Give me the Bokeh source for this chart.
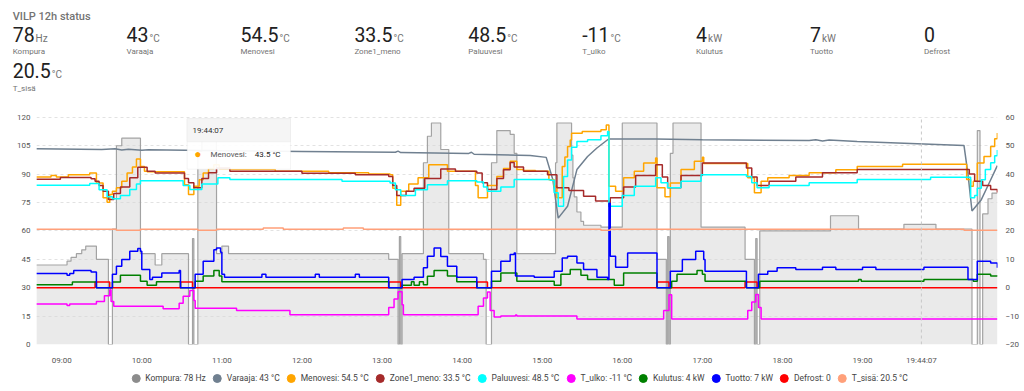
import pandas as pd
from bokeh.plotting import figure
from bokeh.models import (Range1d, LinearAxis, FixedTicker, DatetimeTickFormatter, Legend,
                          LegendItem, BoxAnnotation, Label, Div)
from bokeh.layouts import column
from bokeh.embed import file_html
from bokeh.resources import INLINE

DAY = "2024-01-20 "

# ---------------- data (time, value) ----------------
names = ["Kompura", "Varaaja", "Menovesi", "Zone1_meno", "Paluuvesi", "T_ulko",
         "Kulutus", "Tuotto", "Defrost", "T_sisä"]
current = ["78", "43", "54.5", "33.5", "48.5", "-11", "4", "7", "0", "20.5"]
units = ["Hz", "°C", "°C", "°C", "°C", "°C", "kW", "kW", "", "°C"]
colors = ["#8c8c8c", "#708090", "#FFA500", "#A52A2A", "#00FFFF", "#FF00FF",
          "#008000", "#0000FF", "#FF0000", "#FFA07A"]

kompura = [("08:41", 42), ("09:04", 44), ("09:07", 46), ("09:11", 48), ("09:15", 50), ("09:18", 52),
           ("09:26", 45), ("09:35", 0), ("09:38", 61), ("09:41", 105), ("09:45", 109), ("09:59", 48),
           ("10:10", 42), ("10:15", 48), ("10:35", 0), ("10:38", 56), ("10:39", 0), ("10:42", 102),
           ("10:45", 108), ("10:56", 48), ("11:00", 52), ("11:05", 48), ("13:05", 45), ("13:12", 0),
           ("13:13", 57), ("13:14", 0), ("13:15", 48), ("13:31", 96), ("13:34", 110), ("13:37", 117),
           ("13:44", 103), ("13:50", 48), ("14:16", 45), ("14:18", 0), ("14:22", 96), ("14:26", 113),
           ("14:36", 111), ("14:39", 101), ("14:41", 48), ("15:10", 96), ("15:11", 117), ("15:22", 100),
           ("15:23", 88), ("15:24", 78), ("15:26", 70), ("15:29", 65), ("15:31", 63), ("15:44", 62),
           ("16:00", 117), ("16:26", 45), ("16:33", 0), ("16:34", 57), ("16:35", 0), ("16:36", 101),
           ("16:38", 117), ("16:59", 62), ("17:32", 45), ("17:39", 0), ("17:40", 56), ("17:41", 0),
           ("17:43", 60), ("18:36", 68), ("18:57", 61), ("19:31", 63.5), ("19:55", 61), ("20:22", 0),
           ("20:26", 113), ("20:28", 0), ("20:30", 69), ("20:34", 77), ("20:37", 80), ("20:41", 80)]

varaaja = [("08:41", 48.9), ("09:30", 48.7), ("09:40", 48.9), ("09:45", 48.5), ("09:50", 48.8),
           ("10:00", 48.4), ("10:05", 48.6), ("11:00", 48.2), ("12:00", 48.0), ("13:10", 47.7),
           ("13:12", 48.1), ("13:14", 47.6), ("14:05", 47.3), ("14:07", 47.7), ("14:09", 47.0),
           ("14:51", 46.6), ("15:03", 45.9), ("15:08", 38.0), ("15:12", 24.5), ("15:19", 28.7),
           ("15:26", 41.6), ("15:34", 46.2), ("15:41", 49.2), ("15:49", 52.1), ("15:50", 52.4),
           ("16:25", 52.4), ("17:00", 52.1), ("18:20", 51.8), ("18:25", 52.1), ("18:30", 51.7),
           ("18:35", 52.0), ("18:56", 51.5), ("20:16", 50.1), ("20:19", 40.0), ("20:22", 27.0),
           ("20:29", 31.0), ("20:34", 36.0), ("20:41", 43.0)]

menovesi = [("08:41", 39.0), ("08:52", 39.5), ("08:56", 39.0), ("09:05", 39.8), ("09:21", 40.4),
            ("09:26", 36.9), ("09:31", 31.7), ("09:34", 30.1), ("09:36", 32.8), ("09:38", 34.0),
            ("09:41", 35.2), ("09:45", 37.5), ("09:49", 40.4), ("09:53", 42.5), ("09:56", 45.3),
            ("09:59", 42.7), ("10:02", 41.0), ("10:04", 40.8), ("10:32", 36.3), ("10:35", 32.8),
            ("10:39", 35.7), ("10:43", 38.0), ("10:46", 40.4), ("10:50", 42.0), ("10:54", 43.3),
            ("10:58", 42.0), ("11:06", 41.6), ("11:40", 41.0), ("12:20", 40.5), ("12:50", 40.0),
            ("13:06", 39.8), ("13:08", 35.0), ("13:11", 29.0), ("13:14", 34.0), ("13:20", 36.5),
            ("13:27", 38.7), ("13:35", 43.3), ("13:49", 41.0), ("14:10", 36.0), ("14:12", 31.7),
            ("14:19", 36.0), ("14:26", 39.2), ("14:31", 42.0), ("14:36", 44.5), ("14:41", 41.6),
            ("14:46", 41.3), ("14:55", 41.0), ("15:05", 38.0), ("15:09", 35.7), ("15:11", 31.7),
            ("15:15", 42.7), ("15:17", 46.0), ("15:19", 49.7), ("15:21", 52.0), ("15:22", 54.4),
            ("15:30", 55.0), ("15:44", 55.6), ("15:48", 57.3), ("15:50", 35.7), ("15:55", 34.0),
            ("16:01", 38.7), ("16:09", 41.0), ("16:16", 43.9), ("16:25", 45.7), ("16:26", 35.2),
            ("16:32", 32.0), ("16:36", 36.9), ("16:44", 41.6), ("16:54", 44.5), ("17:00", 45.9),
            ("17:01", 43.7), ("17:34", 38.7), ("17:39", 33.4), ("17:44", 37.5), ("17:49", 38.7),
            ("18:05", 39.5), ("18:20", 40.5), ("18:40", 41.5), ("18:56", 42.7), ("19:30", 43.5),
            ("20:18", 38.1), ("20:21", 35.7), ("20:23", 37.5), ("20:26", 43.9), ("20:31", 46.2),
            ("20:36", 49.7), ("20:39", 52.5), ("20:41", 54.5)]

zone1 = [("08:41", 38.2), ("08:59", 38.8), ("09:22", 38.4), ("09:25", 37.5), ("09:28", 36.0),
         ("09:31", 34.0), ("09:35", 31.1), ("09:39", 33.2), ("09:44", 35.5), ("09:51", 38.7),
         ("09:57", 42.4), ("10:04", 41.0), ("10:10", 40.4), ("10:32", 38.5), ("10:35", 37.0),
         ("10:39", 35.2), ("10:45", 38.5), ("10:50", 40.5), ("10:56", 42.2), ("11:06", 41.0),
         ("12:00", 40.3), ("12:40", 39.8), ("13:05", 39.2), ("13:08", 36.0), ("13:11", 32.5),
         ("13:18", 34.0), ("13:24", 35.0), ("13:32", 38.5), ("13:44", 41.8), ("13:55", 41.0),
         ("14:11", 40.4), ("14:15", 37.0), ("14:19", 34.6), ("14:26", 38.5), ("14:31", 41.5),
         ("14:36", 44.1), ("14:39", 42.5), ("14:46", 41.0), ("15:04", 39.8), ("15:11", 35.2),
         ("15:20", 34.2), ("15:31", 32.2), ("15:40", 30.5), ("15:50", 28.7), ("15:51", 31.7),
         ("16:01", 35.5), ("16:10", 39.5), ("16:25", 43.3), ("16:30", 39.0), ("16:34", 35.2),
         ("16:44", 39.5), ("17:00", 43.9), ("17:33", 42.2), ("17:37", 39.0), ("17:41", 36.0),
         ("17:50", 37.5), ("18:10", 39.0), ("18:30", 40.5), ("18:56", 41.6), ("20:16", 41.6),
         ("20:20", 40.0), ("20:24", 37.5), ("20:30", 36.0), ("20:36", 34.6), ("20:41", 33.5)]

paluuvesi = [("08:41", 36.1), ("09:21", 36.7), ("09:28", 34.5), ("09:34", 32.0), ("09:38", 31.3),
             ("09:44", 32.5), ("09:51", 34.6), ("09:56", 36.5), ("09:59", 37.7), ("10:31", 36.0),
             ("10:36", 34.6), ("10:45", 36.5), ("10:57", 38.7), ("11:06", 38.1), ("12:30", 37.5),
             ("13:06", 36.9), ("13:10", 34.5), ("13:14", 32.5), ("13:25", 34.5), ("13:34", 36.3),
             ("13:49", 37.7), ("14:11", 37.2), ("14:16", 35.5), ("14:19", 34.0), ("14:29", 35.5),
             ("14:39", 38.1), ("15:06", 37.8), ("15:09", 33.4), ("15:12", 28.7), ("15:16", 39.2),
             ("15:19", 45.0), ("15:22", 49.5), ("15:26", 51.5), ("15:34", 52.1), ("15:44", 53.5),
             ("15:49", 55.0), ("15:50", 28.7), ("16:00", 32.5), ("16:09", 35.7), ("16:25", 38.7),
             ("16:29", 37.0), ("16:34", 35.2), ("16:44", 37.5), ("16:59", 39.8), ("17:33", 39.2),
             ("17:37", 37.0), ("17:41", 35.2), ("17:50", 36.0), ("18:20", 37.0), ("18:56", 38.1),
             ("19:51", 38.9), ("20:21", 31.7), ("20:24", 32.5), ("20:26", 35.0), ("20:29", 38.0),
             ("20:32", 41.6), ("20:36", 44.0), ("20:39", 46.5), ("20:41", 48.5)]

t_ulko = [("08:41", -5.7), ("09:04", -6.3), ("09:06", -5.7), ("09:26", -4.9), ("09:32", -2.8),
          ("09:36", -0.7), ("09:37", -4.9), ("09:39", -6.5), ("10:16", -7.4), ("10:28", -5.5),
          ("10:31", -3.0), ("10:36", -1.0), ("10:39", -4.5), ("10:40", -7.2), ("11:11", -8.0),
          ("11:51", -9.5), ("13:05", -7.0), ("13:09", -4.0), ("13:12", -1.4), ("13:15", -6.0),
          ("13:16", -9.5), ("14:12", -6.5), ("14:16", -3.6), ("14:19", -1.5), ("14:21", -8.0),
          ("14:24", -10.3), ("14:29", -10.0), ("14:40", -9.6), ("14:41", -10.0), ("15:26", -11.0),
          ("16:31", -8.0), ("16:35", -2.5), ("16:37", -11.0), ("17:34", -8.0), ("17:37", -5.0),
          ("17:40", -2.4), ("17:42", -7.0), ("17:44", -11.0), ("20:41", -11.0)]

kulutus = [("08:41", 1.0), ("09:08", 2.0), ("09:26", 0), ("09:38", 2.0), ("09:44", 4.4), ("09:59", 2.3),
           ("10:04", 0.9), ("10:11", 2.1), ("10:29", 0), ("10:40", 2.3), ("10:46", 4.1), ("10:54", 6.1),
           ("10:58", 4.1), ("11:00", 2.1), ("13:05", 0), ("13:15", 0.9), ("13:22", 2.1), ("13:24", 0.9),
           ("13:28", 2.1), ("13:31", 1.0), ("13:34", 4.0), ("13:39", 6.1), ("13:49", 4.1), ("13:56", 2.1),
           ("14:11", 0), ("14:22", 2.3), ("14:29", 5.2), ("14:41", 2.3), ("15:09", 0.9), ("15:14", 4.7),
           ("15:21", 6.4), ("15:29", 4.4), ("15:34", 2.9), ("15:54", 0.9), ("16:01", 5.2), ("16:26", 0),
           ("16:37", 2.3), ("16:41", 4.7), ("16:56", 6.1), ("17:00", 4.7), ("17:02", 2.3), ("17:33", 0),
           ("17:43", 2.3), ("18:57", 2.9), ("18:59", 2.3), ("19:46", 2.9), ("20:23", 2.3), ("20:26", 4.7),
           ("20:36", 4.1), ("20:41", 4.0)]

tuotto = [("08:41", 5.0), ("09:04", 4.4), ("09:06", 5.0), ("09:09", 6.1), ("09:22", 5.5), ("09:26", 0),
          ("09:38", 4.7), ("09:41", 7.6), ("09:45", 9.9), ("09:51", 12.8), ("09:57", 13.8), ("09:59", 12.8),
          ("10:00", 6.4), ("10:06", 2.9), ("10:08", 3.7), ("10:15", 5.2), ("10:28", 6.1), ("10:29", 0),
          ("10:40", 4.7), ("10:46", 9.3), ("10:54", 13.4), ("10:56", 14.0), ("10:59", 12.5), ("11:00", 4.7),
          ("11:02", 3.7), ("11:30", 4.7), ("11:33", 3.7), ("12:10", 4.7), ("12:13", 3.7), ("12:40", 4.7),
          ("12:43", 3.7), ("13:05", 0), ("13:15", 2.9), ("13:24", 3.7), ("13:31", 7.0), ("13:34", 11.1),
          ("13:39", 14.0), ("13:44", 11.0), ("13:49", 7.6), ("13:56", 3.7), ("14:11", 0), ("14:22", 5.8),
          ("14:29", 9.3), ("14:36", 11.7), ("14:39", 12.2), ("14:40", 4.1), ("14:54", 3.7), ("15:09", 5.8),
          ("15:15", 10.5), ("15:19", 11.1), ("15:26", 8.7), ("15:31", 6.4), ("15:41", 3.7), ("15:49", 2.9),
          ("15:50", 29.7), ("15:51", 11.1), ("15:55", 7.2), ("16:04", 12.2), ("16:26", 0), ("16:36", 5.8),
          ("16:45", 9.9), ("16:55", 12.8), ("17:01", 9.9), ("17:02", 5.8), ("17:33", 0), ("17:42", 4.7),
          ("17:49", 5.8), ("17:56", 7.0), ("18:10", 6.4), ("18:30", 7.2), ("18:40", 6.4), ("19:00", 7.2),
          ("19:10", 6.4), ("19:46", 7.2), ("20:19", 2.9), ("20:26", 9.3), ("20:36", 8.7), ("20:41", 7.0)]

defrost = [("08:41", 0), ("09:25", 2), ("09:36", 0), ("10:29", 2), ("10:38", 0), ("13:05", 2), ("13:14", 0),
           ("14:11", 2), ("14:19", 0), ("16:26", 2), ("16:35", 0), ("17:32", 2), ("17:41", 0), ("20:41", 0)]

t_sisa = [("08:41", 20.6), ("09:41", 20.2), ("09:59", 20.6), ("10:42", 20.2), ("10:56", 20.6),
          ("11:31", 21.0), ("11:46", 20.6), ("12:31", 21.0), ("12:46", 20.6), ("15:44", 20.2),
          ("15:51", 20.6), ("20:16", 20.2), ("20:41", 20.2)]

hour_ticks = ["%02d:00" % h for h in range(9, 20)]
left_ticks = list(range(0, 121, 15))
right_ticks = list(range(-20, 61, 10))
left_span = (0, 120)
right_span = (-20, 60)
cursor_time = "19:44:07"
window = ("08:41:07", "20:41:07")
title_text = "VILP 12h status"


def ts(pairs):
    return pd.to_datetime([DAY + t for t, _ in pairs])


def vals(pairs):
    return [v for _, v in pairs]


def ms(t):
    return pd.Timestamp(DAY + t).value / 1e6


def value_at(pairs, t):
    tt = pd.Timestamp(DAY + t)
    out = pairs[0][1]
    for a, v in pairs:
        if pd.Timestamp(DAY + a) <= tt:
            out = v
    return out


# --- layout geometry (page pixels) ---
W = 1024
H_HEAD, H_MAIN, H_LEG = 96, 271, 22
FL, FR, FB = 36, 997, 346        # plot frame left/right/bottom (page px)
FT = H_HEAD                       # frame top (page px)
PT = 117                          # top of the plotted 0..120 band (page px)
X0, X1 = ms(window[0]), ms(window[1])
k = (FB - FT) / (FB - PT)
left_top = left_span[0] + (left_span[1] - left_span[0]) * k
right_top = right_span[0] + (right_span[1] - right_span[0]) * k


def px_x(x):   # page x -> data x (ms)
    return X0 + (x - FL) / (FR - FL) * (X1 - X0)


def px_y(y):   # page y -> left-axis value
    return (FB - y) / (FB - PT) * 120.0


FONT = "Roboto"
GRAY = "#555555"

# ---------------- header (card title + stats) ----------------
parts = ['<div style="position:relative;width:%dpx;height:%dpx;font-family:Roboto,sans-serif;">' % (W, H_HEAD),
         '<div style="position:absolute;left:12.7px;top:11.2px;font-size:11px;line-height:11px;'
         'font-weight:500;color:#737373;white-space:nowrap;">%s</div>' % title_text]
for i, (n, c, u) in enumerate(zip(names, current, units)):
    row, col = (0, i) if i < 9 else (1, 0)
    left = 12.7 + 113.9 * col
    vtop = 26.0 + 36 * row
    ltop = 48.4 + 36.5 * row
    parts.append('<div style="position:absolute;left:%.1fpx;top:%.1fpx;font-size:19.5px;line-height:19.5px;'
                 'color:#212121;white-space:nowrap;">%s<span style="font-size:10px;color:#737373;'
                 'margin-left:1px;">%s</span></div>' % (left, vtop, c, u))
    parts.append('<div style="position:absolute;left:%.1fpx;top:%.1fpx;font-size:8px;line-height:8px;'
                 'color:#737373;white-space:nowrap;">%s</div>' % (left, ltop, n))
parts.append('</div>')
header = Div(text="".join(parts), width=W, height=H_HEAD, margin=0)

# ---------------- main chart ----------------
p = figure(width=W, height=H_MAIN, x_axis_type="datetime", output_backend="svg",
           toolbar_location=None, sizing_mode="fixed",
           x_range=Range1d(X0, X1), y_range=Range1d(left_span[0], left_top),
           min_border_left=FL, min_border_right=W - FR, min_border_top=0,
           min_border_bottom=H_HEAD + H_MAIN - FB,
           outline_line_color=None, background_fill_color="white", border_fill_color="white")
p.extra_y_ranges = {"r": Range1d(right_span[0], right_top)}


def style_axis(ax):
    ax.axis_line_color = None
    ax.major_tick_line_color = None
    ax.minor_tick_line_color = None
    ax.major_tick_out = 0
    ax.major_tick_in = 0
    ax.major_label_text_font = FONT
    ax.major_label_text_font_size = "8px"
    ax.major_label_text_color = GRAY


xa = p.xaxis[0]
xa.ticker = FixedTicker(ticks=[ms(h) for h in hour_ticks] + [ms(cursor_time)])
fmt = "%H:%M"
xa.formatter = DatetimeTickFormatter(seconds=fmt, minsec=fmt, minutes=fmt, hourmin=fmt,
                                     hours=fmt, days=fmt)
xa.major_label_overrides = {ms(cursor_time): cursor_time}
style_axis(xa)
xa.major_label_standoff = 11

ya = p.yaxis[0]
ya.ticker = FixedTicker(ticks=left_ticks)
style_axis(ya)
ya.major_label_standoff = 6

ra = LinearAxis(y_range_name="r", ticker=FixedTicker(ticks=right_ticks))
style_axis(ra)
ra.major_label_standoff = 8
p.add_layout(ra, "right")

p.xgrid.visible = False
p.ygrid.ticker = FixedTicker(ticks=left_ticks)
p.ygrid.grid_line_color = "#e2e2e2"
p.ygrid.grid_line_dash = "3 3"

# Kompura area (left axis)
p.varea_step(x=ts(kompura), y1=0, y2=vals(kompura), step_mode="after",
             fill_color="#d6d6d6", fill_alpha=0.5)
p.step(ts(kompura), vals(kompura), mode="after", line_color="#a3a3a3", line_width=1.2)

series = [(varaaja, colors[1], "line"), (menovesi, colors[2], "step"), (zone1, colors[3], "step"),
          (paluuvesi, colors[4], "step"), (t_ulko, colors[5], "step"), (defrost, colors[8], "step"),
          (kulutus, colors[6], "step"), (tuotto, colors[7], "step"), (t_sisa, colors[9], "step")]
for data, col, kind in series:
    if kind == "line":
        p.line(ts(data), vals(data), line_color=col, line_width=1.5, y_range_name="r")
    else:
        p.step(ts(data), vals(data), mode="after", line_color=col, line_width=1.5, y_range_name="r")

# cursor line across the plotted band
p.segment(x0=[ms(cursor_time)], y0=[left_span[0]], x1=[ms(cursor_time)], y1=[left_span[1]],
          line_color="#c8c8c8", line_dash="3 3", line_width=1)

# tooltip box
p.add_layout(BoxAnnotation(left=px_x(186.7), right=px_x(290), top=px_y(118.3), bottom=px_y(169.3),
                           fill_color="white", fill_alpha=0.93, line_color="#dddddd",
                           line_width=1, level="overlay"))
p.add_layout(BoxAnnotation(left=px_x(186.7), right=px_x(290), top=px_y(118.3), bottom=px_y(141.7),
                           fill_color="#f5f5f5", fill_alpha=1, line_color="#dddddd",
                           line_width=1, level="overlay"))
tip_val = value_at(menovesi, cursor_time)
p.add_layout(Label(x=px_x(192), y=px_y(130), text=cursor_time, text_font=FONT,
                   text_font_size="8px", text_color="#333333", text_baseline="middle", level="overlay"))
p.add_layout(Label(x=px_x(197.3), y=px_y(154.3), text="●", text_font=FONT, text_font_size="12px",
                   text_color=colors[2], text_align="center", text_baseline="middle", level="overlay"))
p.add_layout(Label(x=px_x(210), y=px_y(154.3), text="Menovesi:", text_font=FONT,
                   text_font_size="8px", text_color="#555555", text_baseline="middle", level="overlay"))
p.add_layout(Label(x=px_x(254.3), y=px_y(154.3), text="%s °C" % tip_val, text_font=FONT,
                   text_font_size="8px", text_color="#222222", text_baseline="middle", level="overlay"))

# ---------------- legend strip ----------------
lf = figure(width=W, height=H_LEG, output_backend="svg", toolbar_location=None, sizing_mode="fixed",
            x_range=Range1d(0, 1), y_range=Range1d(0, 1), x_axis_location=None, y_axis_location=None,
            min_border_left=0, min_border_right=0, min_border_top=0, min_border_bottom=0,
            outline_line_color=None, background_fill_color="white", border_fill_color="white")
lf.xgrid.visible = False
lf.ygrid.visible = False
items = []
for n, c, u, col in zip(names, current, units, colors):
    r = lf.scatter(x=[-5], y=[-5], marker="circle", size=8, color=col)
    items.append(LegendItem(label=("%s: %s %s" % (n, c, u)).strip(), renderers=[r]))
legend = Legend(items=items, orientation="horizontal", location="center",
                glyph_width=20, glyph_height=20, label_height=20, label_standoff=0, spacing=1,
                padding=0, margin=0, border_line_color=None, background_fill_alpha=0,
                label_text_font=FONT, label_text_font_size="8.5px", label_text_color="#444444")
lf.add_layout(legend)

layout = column(header, p, lf, spacing=0)
open("out.html", "w", encoding="utf-8").write(file_html(layout, INLINE))
